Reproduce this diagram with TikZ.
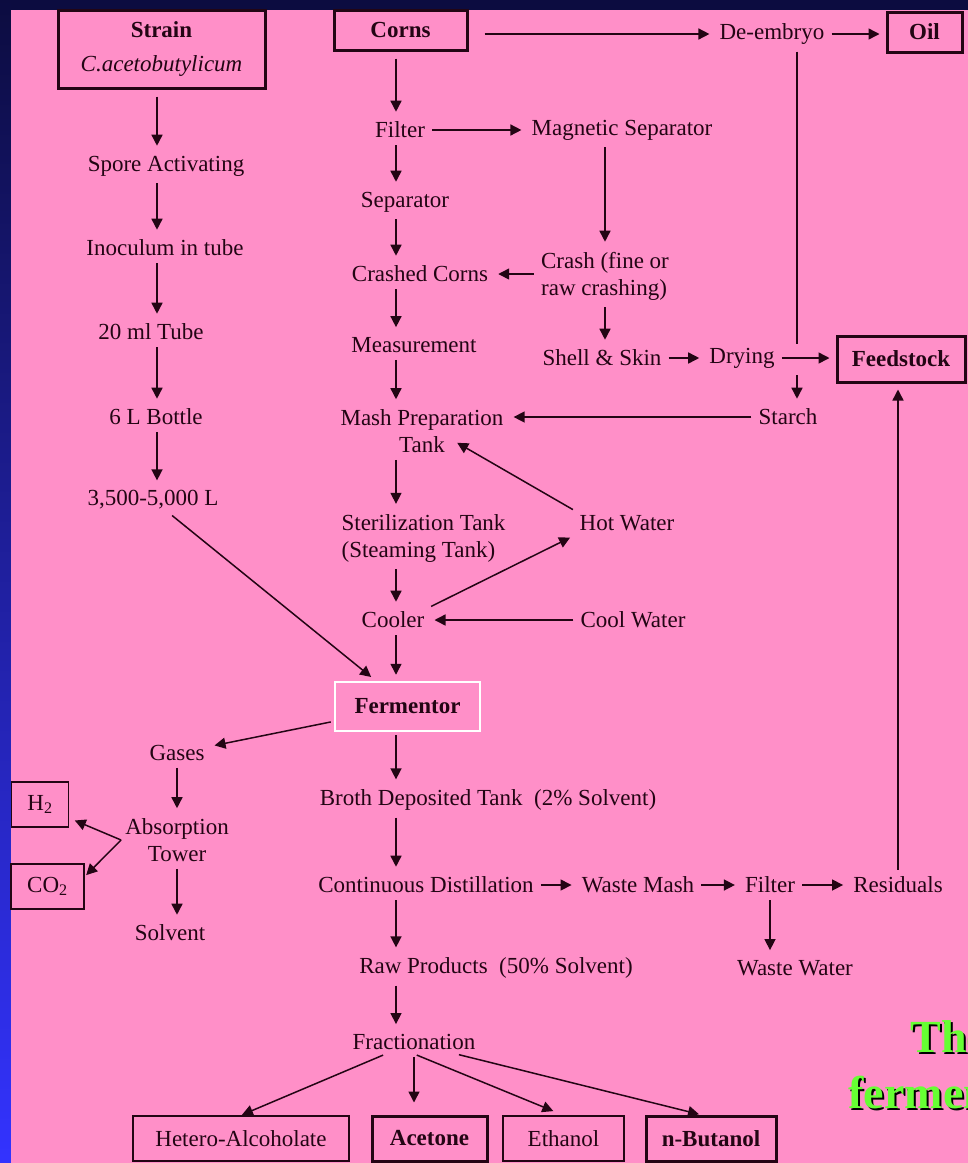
\documentclass[tikz,border=0pt]{standalone}
\usepackage{fontspec}
\setmainfont{Liberation Serif}
\usetikzlibrary{arrows.meta, positioning}

\definecolor{slide}{RGB}{255,143,200}
\definecolor{navy}{RGB}{12,12,64}
\definecolor{bluebar}{RGB}{51,51,255}
\definecolor{ink}{RGB}{35,5,20}
\definecolor{title}{RGB}{102,255,51}

\begin{document}
\begin{tikzpicture}[x=1pt, y=-1pt,
    font=\fontsize{23}{27}\selectfont, text=ink,
    lbl/.style = {inner sep=4pt, align=center},
    BX/.style args = {#1/#2}{
                    draw=#1,% frame color
                    line width=#2,
                    inner sep=0pt, align=center},
    line/.style = {line width=1.5pt,
                    draw=#1,%line color
                    -{Triangle[length=11pt,width=11pt,fill=#1]},
                    shorten >=6pt, shorten <=3pt},
    every edge/.style = {line=ink},
    head/.style = {font=\fontsize{46}{50}\selectfont\bfseries, anchor=base west}]
%---
\useasboundingbox (0,0) rectangle (968,1163);
\fill[navy] (0,0) rectangle (968,10);
\shade[top color=navy, bottom color=bluebar] (0,0) rectangle (11,1163);
\fill[slide] (11,10) rectangle (968,1163);
\coordinate (lx) at (157,0);
\coordinate (mx) at (396,0);
\coordinate (rx) at (797,0);
% strain column
\node (strain) [BX=ink/3pt, minimum width=207, minimum height=78] at (161.5,49)
        {\textbf{Strain}\\[7pt]\textit{C.acetobutylicum}};
\node (spore)  [lbl] at (166,166) {Spore Activating};
\node (inoc)   [lbl] at (165,248) {Inoculum in tube};
\node (tube)   [lbl] at (151,332) {20 ml Tube};
\node (bottle) [lbl] at (156,417) {6 L Bottle};
\node (big)    [lbl] at (153,500) {3,500-5,000 L};
% corns column
\node (corns)  [BX=ink/3pt, minimum width=133, minimum height=40] at (400.5,30) {\textbf{Corns}};
\node (de)     [lbl] at (772,34) {De-embryo};
\node (oil)    [BX=ink/3pt, minimum width=75, minimum height=40] at (924.5,32) {\textbf{Oil}};
\node (filter) [lbl] at (400,130) {Filter};
\node (mag)    [lbl] at (622,130) {Magnetic Separator};
\node (sep)    [lbl] at (405,202) {Separator};
\node (crashed)[lbl] at (420,274) {Crashed Corns};
\node (crash)  [lbl, align=left] at (605,276) {Crash (fine or\\raw crashing)};
\node (meas)   [lbl] at (414,345) {Measurement};
\node (shell)  [lbl] at (602,358) {Shell \& Skin};
\node (dry)    [lbl] at (742,358) {Drying};
\node (feed)   [BX=ink/3pt, minimum width=128, minimum height=46] at (901,359) {\textbf{Feedstock}};
\node (mash)   [lbl] at (422,431) {Mash Preparation\\Tank};
\node (starch) [lbl] at (788,417) {Starch};
\node (hot)    [lbl] at (627,523) {Hot Water};
\node (ster)   [lbl, align=left] at (423.5,538) {Sterilization Tank\\(Steaming Tank)};
\node (cooler) [lbl] at (393,620) {Cooler};
\node (cool)   [lbl] at (633,620) {Cool Water};
\node (ferm)   [BX=white/2.5pt, minimum width=145, minimum height=49] at (407.5,706.5) {\textbf{Fermentor}};
% gases
\node (gases)  [lbl] at (177,753) {Gases};
\node (absorb) [lbl] at (177,840) {Absorption\\Tower};
\node (solvent)[lbl] at (170,933) {Solvent};
\node (h2)     [BX=ink/1.5pt, minimum width=57, minimum height=45] at (40,804.5) {H\textsubscript{2}};
\node (co2)    [BX=ink/1.5pt, minimum width=73, minimum height=45] at (47.5,886.5) {CO\textsubscript{2}};
% broth
\node (broth)  [lbl] at (488,800) {Broth Deposited Tank\enskip(2\% Solvent)};
\node (cd)     [lbl] at (426,885) {Continuous Distillation};
\node (wm)     [lbl] at (638,885) {Waste Mash};
\node (filt2)  [lbl] at (770,885) {Filter};
\node (resid)  [lbl] at (898,885) {Residuals};
\node (ww)     [lbl] at (795,968) {Waste Water};
\node (raw)    [lbl] at (496,968) {Raw Products\enskip(50\% Solvent)};
\node (frac)   [lbl] at (414,1042) {Fractionation};
% products
\node (hetero) [BX=ink/1.5pt, minimum width=216, minimum height=45] at (241,1138.5) {Hetero-Alcoholate};
\node (acetone)[BX=ink/3pt, minimum width=115, minimum height=45] at (429.5,1138.5) {\textbf{Acetone}};
\node (ethanol)[BX=ink/1.5pt, minimum width=121, minimum height=45] at (563.5,1138.5) {Ethanol};
\node (nbut)   [BX=ink/3pt, minimum width=130, minimum height=45] at (711,1138.5) {\textbf{n-Butanol}};
% title
\node (ttl1s)  [head, text=black] at (909,1054) {The};
\node (ttl1)   [head, text=title] at (907,1052) {The};
\node (ttl2s)  [head, text=black] at (847,1110) {fermen};
\node (ttl2)   [head, text=title] at (845,1108) {fermen};
% lines
\path   (strain.south -| lx) edge[shorten <=7pt] (spore.north -| lx)
        (spore.south -| lx)  edge (inoc.north -| lx)
        (inoc.south -| lx)   edge (tube.north -| lx)
        (tube.south -| lx)   edge (bottle.north -| lx)
        (bottle.south -| lx) edge (big.north -| lx)
        (big) edge (ferm);
\path   (corns.south -| mx)  edge[shorten <=7pt] (filter.north -| mx)
        (filter.south -| mx) edge (sep.north -| mx)
        (sep.south -| mx)    edge (crashed.north -| mx)
        (crashed.south -| mx) edge (meas.north -| mx)
        (meas.south -| mx)   edge (mash.north -| mx)
        (mash.south -| mx)   edge (ster.north -| mx)
        (ster.south -| mx)   edge (cooler.north -| mx)
        (cooler.south -| mx) edge (ferm.north -| mx)
        (ferm.south -| mx)   edge (broth.north -| mx)
        (broth.south -| mx)  edge (cd.north -| mx)
        (cd.south -| mx)     edge (raw.north -| mx)
        (raw.south -| mx)    edge (frac.north -| mx);
\path   (corns.east |- de) edge[shorten <=16pt] (de.west)
        (de.east) edge (oil.west |- de)
        (filter) edge (mag)
        (mag.south -| crash) edge (crash.north)
        (crash.west |- crashed) edge (crashed.east)
        (crash.south) edge (shell.north -| crash.south)
        (shell) edge (dry)
        (dry) edge (feed.west |- dry)
        (dry.south -| rx) edge (starch.north -| rx)
        (starch.west) edge (mash.east |- starch.west)
        (hot.north west) edge ([xshift=30pt,yshift=17pt]mash.south)
        (cooler.north east) edge (hot.south west)
        (cool.west) edge (cooler.east);
\draw[line width=1.5pt, draw=ink, shorten <=3pt] (de.south -| rx) -- (dry.north -| rx);
\path   (ferm) edge (gases)
        (gases) edge (absorb)
        (absorb.west) edge[shorten <=0pt] (h2.-25)
        (absorb.west) edge[shorten <=0pt, shorten >=2pt] (co2.15)
        (absorb.south) edge (solvent.north -| absorb.south);
\path   (cd) edge (wm)
        (wm) edge (filt2)
        (filt2) edge (resid)
        (filt2.south) edge (ww.north -| filt2.south)
        (resid.north) edge (feed.south -| resid.north);
\path   (frac) edge[shorten >=1pt] (hetero.north)
        (frac.south) edge[shorten >=12pt] (acetone.north -| frac.south)
        (frac.south) edge[shorten >=11pt] (ethanol.north)
        ([xshift=42pt]frac.south) edge[shorten >=1pt] ([xshift=-11pt]nbut.north);
\end{tikzpicture}
\end{document}
